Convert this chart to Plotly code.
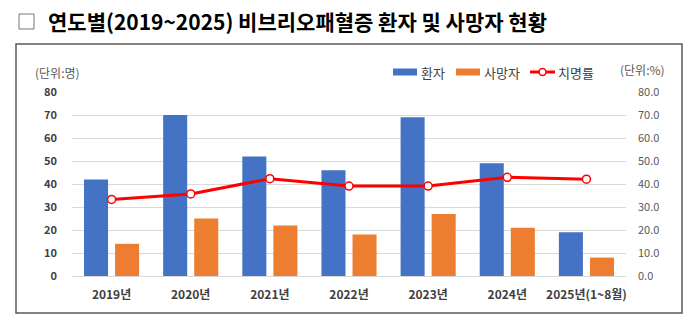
import plotly.graph_objects as go

categories = ["2019년", "2020년", "2021년", "2022년", "2023년", "2024년", "2025년(1~8월)"]
patients = [42, 70, 52, 46, 69, 49, 19]
deaths = [14, 25, 22, 18, 27, 21, 8]
fatality = [33.3, 35.7, 42.3, 39.1, 39.1, 42.9, 42.1]
left_ticks = [0, 10, 20, 30, 40, 50, 60, 70, 80]
right_ticks = [0, 10, 20, 30, 40, 50, 60, 70, 80]
right_tick_labels = ["0.0", "10.0", "20.0", "30.0", "40.0", "50.0", "60.0", "70.0", "80.0"]

BLUE = "#4472C4"
ORANGE = "#ED7D31"
RED = "#FF0000"
FONT = "Noto Sans CJK KR"

W, H = 700, 329
L, R, T, B = 72, 74, 92, 53
PW, PH = W - L - R, H - T - B


def px(x):
    return (x - L) / PW


def py(y):
    return (H - B - y) / PH


fig = go.Figure()
fig.add_trace(go.Bar(x=categories, y=patients, name="환자", marker=dict(color=BLUE, line=dict(width=0)),
                     showlegend=False))
fig.add_trace(go.Bar(x=categories, y=deaths, name="사망자", marker=dict(color=ORANGE, line=dict(width=0)),
                     showlegend=False))
fig.add_trace(go.Scatter(x=categories, y=fatality, name="치명률", yaxis="y2", mode="lines+markers",
                         line=dict(color=RED, width=3),
                         marker=dict(size=8, color="white", line=dict(color=RED, width=1.5)),
                         showlegend=False))

shapes = [
    dict(type="rect", xref="paper", yref="paper", x0=px(16), x1=px(682), y0=py(44), y1=py(313),
         line=dict(color="#595959", width=1.5), fillcolor="rgba(0,0,0,0)", layer="below"),
    # title check box
    dict(type="rect", xref="paper", yref="paper", x0=px(19), x1=px(34), y0=py(29), y1=py(14),
         line=dict(color="#777777", width=1), fillcolor="rgba(0,0,0,0)"),
    dict(type="rect", xref="paper", yref="paper", x0=px(393), x1=px(417), y0=py(75.5), y1=py(68.5),
         line=dict(width=0), fillcolor=BLUE),
    dict(type="rect", xref="paper", yref="paper", x0=px(456), x1=px(480), y0=py(75.5), y1=py(68.5),
         line=dict(width=0), fillcolor=ORANGE),
    dict(type="line", xref="paper", yref="paper", x0=px(530), x1=px(555), y0=py(72), y1=py(72),
         line=dict(color=RED, width=3)),
    dict(type="circle", xref="paper", yref="paper", x0=px(539), x1=px(546), y0=py(75.5), y1=py(68.5),
         line=dict(color=RED, width=1.5), fillcolor="white"),
]

annotations = [
    dict(text="<b>연도별(2019~2025) 비브리오패혈증 환자 및 사망자 현황</b>",
         xref="paper", yref="paper", x=px(46), y=py(21), xanchor="left", yanchor="middle",
         showarrow=False, font=dict(family=FONT, size=21, color="#000000")),
    dict(text="(단위:명)", xref="paper", yref="paper", x=px(33), y=py(72), xanchor="left", yanchor="middle",
         showarrow=False, font=dict(family=FONT, size=12, color="#595959")),
    dict(text="(단위:%)", xref="paper", yref="paper", x=px(667), y=py(70), xanchor="right", yanchor="middle",
         showarrow=False, font=dict(family=FONT, size=12, color="#595959")),
    dict(text="환자", xref="paper", yref="paper", x=px(419), y=py(72), xanchor="left", yanchor="middle",
         showarrow=False, font=dict(family=FONT, size=13, color="#404040")),
    dict(text="사망자", xref="paper", yref="paper", x=px(482), y=py(72), xanchor="left", yanchor="middle",
         showarrow=False, font=dict(family=FONT, size=13, color="#404040")),
    dict(text="치명률", xref="paper", yref="paper", x=px(556), y=py(72), xanchor="left", yanchor="middle",
         showarrow=False, font=dict(family=FONT, size=13, color="#404040")),
]

fig.update_layout(
    width=W, height=H,
    margin=dict(l=L, r=R, t=T, b=B, pad=0),
    paper_bgcolor="white", plot_bgcolor="white",
    barmode="group", bargap=0.215, bargroupgap=0.226,
    font=dict(family=FONT, color="#595959"),
    xaxis=dict(showgrid=False, showline=False, ticks="", zeroline=False,
               tickfont=dict(family=FONT, size=12, color="#404040", weight="bold"),
               ticklabelstandoff=10),
    yaxis=dict(range=[0, 80], tickvals=left_ticks, showgrid=True, gridcolor="#D9D9D9", gridwidth=1,
               zeroline=True, zerolinecolor="#D9D9D9", zerolinewidth=1, showline=False, ticks="",
               tickfont=dict(family=FONT, size=11, color="#404040", weight="bold"),
               ticklabelstandoff=14),
    yaxis2=dict(range=[0, 80], tickvals=right_ticks, ticktext=right_tick_labels, overlaying="y",
                side="right", showgrid=False, zeroline=False, showline=False, ticks="",
                tickfont=dict(family=FONT, size=11, color="#595959"),
                ticklabelstandoff=11),
    shapes=shapes,
    annotations=annotations,
)

fig.write_html("out.html")
